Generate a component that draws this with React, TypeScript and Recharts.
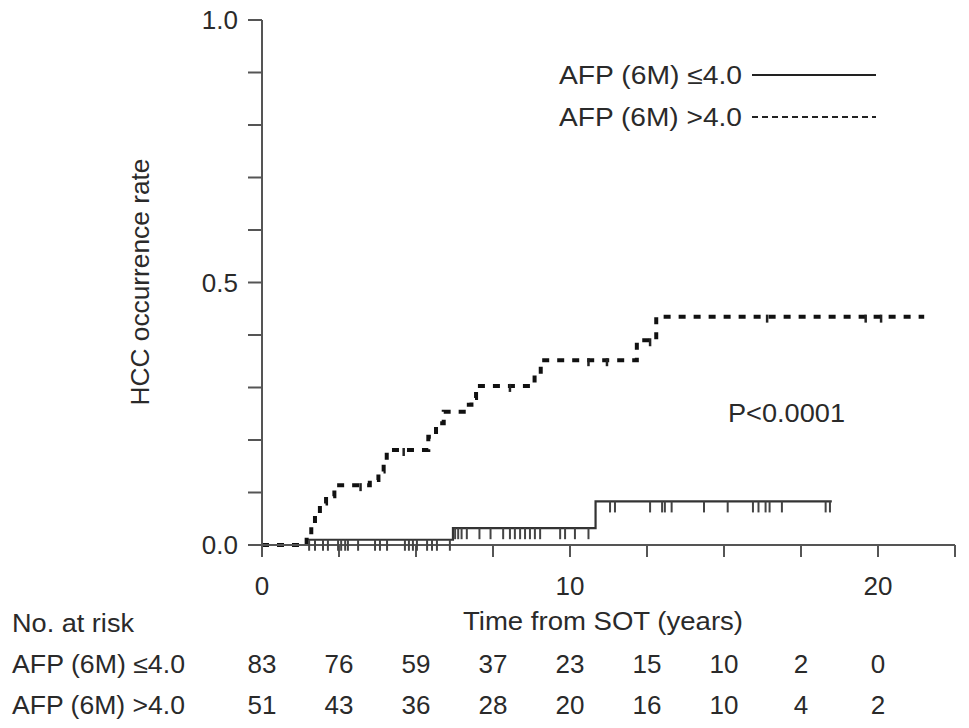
import React from 'react';
import { ComposedChart, Line, Scatter, XAxis, YAxis } from 'recharts';

// ---- axes / ticks ----
const xTicks = [0, 2.5, 5, 7.5, 10, 12.5, 15, 17.5, 20, 22.5];
const xLabelTicks = [0, 10, 20];
const yTicks = [0, 0.1, 0.2, 0.3, 0.4, 0.5, 0.6, 0.7, 0.8, 0.9, 1.0];
const yLabelTicks = [0, 0.5, 1.0];

// ---- number at risk ----
const riskTimes = [0, 2.5, 5, 7.5, 10, 12.5, 15, 17.5, 20];
const riskLow = [83, 76, 59, 37, 23, 15, 10, 2, 0];
const riskHigh = [51, 43, 36, 28, 20, 16, 10, 4, 2];

// ---- AFP (6M) <=4.0 step curve ----
const lowTimes = [0, 1.45, 6.2, 10.83, 18.5];
const lowRates = [0, 0.01, 0.032, 0.083, 0.083];
const lowCensorTimes = [
  1.53, 1.72, 1.98, 2.14, 2.47, 2.57, 2.7, 2.79, 3.12, 3.67, 3.83, 4.06, 4.64, 4.77, 4.9, 5.03, 5.36, 5.52, 5.68, 6.1,
  6.27, 6.37, 6.48, 6.65, 7.06, 7.42, 7.83, 8.05, 8.21, 8.38, 8.54, 8.7, 8.86, 9.03, 9.68, 9.84, 10.16, 10.6,
  11.3, 11.46, 12.6, 12.99, 13.08, 13.3, 14.35, 15.12, 15.94, 16.12, 16.35, 16.48, 16.88, 18.3, 18.44,
];

// ---- AFP (6M) >4.0 step curve ----
const highTimes = [0, 1.45, 1.6, 1.72, 1.88, 2.08, 2.35, 3.5, 3.78, 3.95, 4.05, 5.4, 5.65, 5.9, 6.55, 6.8, 6.95, 8.85, 9.05, 12.17, 12.8, 21.5];
const highRates = [0, 0.02, 0.04, 0.06, 0.079, 0.093, 0.114, 0.124, 0.14, 0.162, 0.181, 0.206, 0.232, 0.254, 0.267, 0.28, 0.303, 0.33, 0.352, 0.39, 0.435, 0.435];
const highCensorTimes = [3.2, 4.6, 8.05, 10.6, 11.2, 12.6, 16.4, 19.6, 20.1];

const stepValue = (times: number[], rates: number[], t: number) => {
  let v = rates[0];
  for (let i = 0; i < times.length; i++) if (times[i] <= t) v = rates[i];
  return v;
};

const lowData = lowTimes.map((t, i) => ({ t, v: lowRates[i] }));
const highData = highTimes.map((t, i) => ({ t, v: highRates[i] }));
const lowCensor = lowCensorTimes.map((t) => ({ t, v: stepValue(lowTimes, lowRates, t) }));
const highCensor = highCensorTimes.map((t) => ({ t, v: stepValue(highTimes, highRates, t) }));

const FONT = '"Liberation Sans", Arial, Helvetica, sans-serif';
const INK = '#2a2a2a';
const AXIS = '#555';

const CensorMark = (props: any) => {
  const { cx, cy } = props;
  if (cx == null || cy == null) return null;
  return <line x1={cx} y1={cy} x2={cx} y2={cy + 11} stroke="#444" strokeWidth={2} />;
};

const CensorMarkSmall = (props: any) => {
  const { cx, cy } = props;
  if (cx == null || cy == null) return null;
  return <line x1={cx} y1={cy - 2} x2={cx} y2={cy + 6} stroke="#222" strokeWidth={2.5} />;
};

const XTick = (props: any) => {
  const { x, y, payload } = props;
  const v = payload.value;
  const axisY = y - 14;
  const idx = riskTimes.findIndex((r) => Math.abs(r - v) < 1e-9);
  return (
    <g fontFamily={FONT} fill={INK}>
      {xLabelTicks.includes(v) && (
        <text x={x} y={axisY + 41} textAnchor="middle" dominantBaseline="central" fontSize={26}>
          {String(v)}
        </text>
      )}
      {idx >= 0 && (
        <text x={x} y={axisY + 119} textAnchor="middle" dominantBaseline="central" fontSize={26}>
          {riskLow[idx]}
        </text>
      )}
      {idx >= 0 && (
        <text x={x} y={axisY + 160} textAnchor="middle" dominantBaseline="central" fontSize={26}>
          {riskHigh[idx]}
        </text>
      )}
    </g>
  );
};

const YTick = (props: any) => {
  const { x, y, payload } = props;
  const v = payload.value;
  if (!yLabelTicks.some((l) => Math.abs(l - v) < 1e-9)) return null;
  return (
    <text x={x} y={y} textAnchor="end" dominantBaseline="central" fontSize={26} fontFamily={FONT} fill={INK}>
      {v.toFixed(1)}
    </text>
  );
};

export default function App() {
  return (
    <div style={{ position: 'absolute', left: 0, top: 0, width: 969, height: 728, background: '#fff' }}>
      <ComposedChart
        width={969}
        height={728}
        margin={{ top: 20, right: 14, bottom: 143, left: 202 }}
      >
        <XAxis
          type="number"
          dataKey="t"
          domain={[0, 22.5]}
          ticks={xTicks}
          interval={0}
          height={40}
          tickSize={12}
          axisLine={{ stroke: AXIS, strokeWidth: 2 }}
          tickLine={{ stroke: AXIS, strokeWidth: 2 }}
          tick={<XTick />}
        />
        <YAxis
          type="number"
          dataKey="v"
          domain={[0, 1]}
          ticks={yTicks}
          interval={0}
          width={60}
          tickSize={14}
          tickMargin={10}
          axisLine={{ stroke: AXIS, strokeWidth: 2 }}
          tickLine={{ stroke: AXIS, strokeWidth: 2 }}
          tick={<YTick />}
        />
        <Line
          data={lowData}
          dataKey="v"
          type="stepAfter"
          stroke="#333"
          strokeWidth={2.2}
          dot={false}
          activeDot={false}
          isAnimationActive={false}
        />
        <Line
          data={highData}
          dataKey="v"
          type="stepAfter"
          stroke="#111"
          strokeWidth={4}
          strokeDasharray="7 8"
          dot={false}
          activeDot={false}
          isAnimationActive={false}
        />
        <Scatter data={lowCensor} dataKey="v" shape={<CensorMark />} isAnimationActive={false} />
        <Scatter data={highCensor} dataKey="v" shape={<CensorMarkSmall />} isAnimationActive={false} />
      </ComposedChart>

      <svg
        width={969}
        height={728}
        style={{ position: 'absolute', left: 0, top: 0, pointerEvents: 'none' }}
        fontFamily={FONT}
        fill={INK}
      >
        <text
          x={140}
          y={282}
          transform="rotate(-90 140 282)"
          textAnchor="middle"
          dominantBaseline="central"
          fontSize={26}
          textLength={247}
          lengthAdjust="spacingAndGlyphs"
        >
          HCC occurrence rate
        </text>
        <text x={463} y={621} dominantBaseline="central" fontSize={25} textLength={280} lengthAdjust="spacingAndGlyphs">
          Time from SOT (years)
        </text>
        <text x={12} y={623} dominantBaseline="central" fontSize={25} textLength={122} lengthAdjust="spacingAndGlyphs">
          No. at risk
        </text>
        <text x={12} y={664} dominantBaseline="central" fontSize={25} textLength={173} lengthAdjust="spacingAndGlyphs">
          AFP (6M) ≤4.0
        </text>
        <text x={12} y={705} dominantBaseline="central" fontSize={25} textLength={173} lengthAdjust="spacingAndGlyphs">
          AFP (6M) &gt;4.0
        </text>
        <text x={728} y={413} dominantBaseline="central" fontSize={26} textLength={117} lengthAdjust="spacingAndGlyphs">
          P&lt;0.0001
        </text>

        <text x={559} y={75} dominantBaseline="central" fontSize={25.5} textLength={183} lengthAdjust="spacingAndGlyphs">
          AFP (6M) ≤4.0
        </text>
        <line x1={752} y1={75} x2={876} y2={75} stroke="#222" strokeWidth={2} />
        <text x={559} y={117} dominantBaseline="central" fontSize={25.5} textLength={183} lengthAdjust="spacingAndGlyphs">
          AFP (6M) &gt;4.0
        </text>
        <line x1={752} y1={117} x2={876} y2={117} stroke="#222" strokeWidth={2} strokeDasharray="6 4" />
      </svg>
    </div>
  );
}
